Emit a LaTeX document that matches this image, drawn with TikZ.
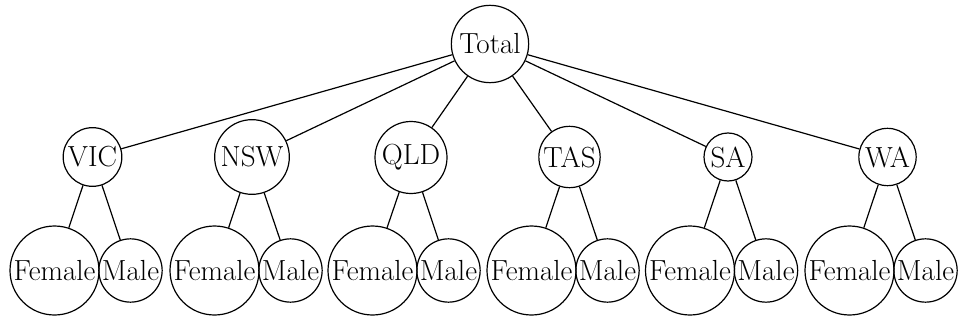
\documentclass[tikz,border=0pt]{standalone}
\usepackage{fontspec}
\begin{document}
\begin{tikzpicture}[x=0.75pt,y=-0.75pt,
  every node/.style={circle,draw,line width=0.9pt,inner sep=0pt,font=\fontsize{21.8}{26}\selectfont},
  leafF/.style={minimum size=66.75pt},
  leafM/.style={minimum size=47.5pt},
  edge/.style={line width=0.9pt}]
\useasboundingbox (0,0) rectangle (960,321);
\node[minimum size=58pt] (total) at (490,44) {Total};
\node[minimum size=44pt] (vic) at (92.5,157) {VIC};
\node[minimum size=56pt] (nsw) at (252,157) {NSW};
\node[minimum size=54pt] (qld) at (411,157.5) {QLD};
\node[minimum size=46pt] (tas) at (569.5,157) {TAS};
\node[minimum size=36pt] (sa) at (728,157) {SA};
\node[minimum size=43pt] (wa) at (887.5,157) {WA};
\foreach \s/\fx in {vic/54.5,nsw/214.5,qld/372.5,tas/531.5,sa/690,wa/849.5}{
  \node[leafF] (\s f) at (\fx,270.5) {Female};
  \node[leafM] (\s m) at (\fx+76,270.5) {Male};
  \draw[edge] (total) -- (\s);
  \draw[edge] (\s) -- (\s f);
  \draw[edge] (\s) -- (\s m);
}
\end{tikzpicture}
\end{document}
